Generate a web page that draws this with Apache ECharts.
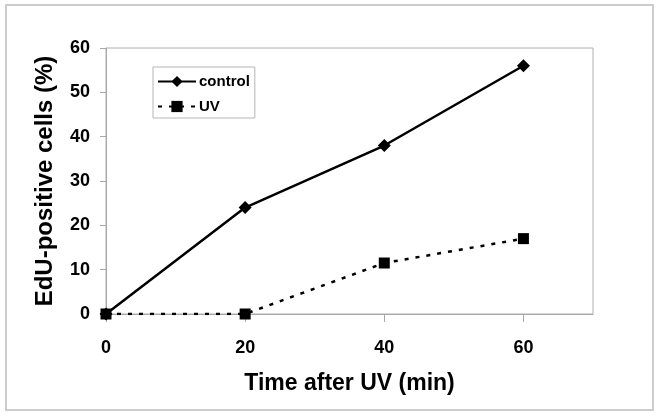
<!DOCTYPE html>
<html><head><meta charset="utf-8">
<script src="https://cdn.jsdelivr.net/npm/echarts@6/dist/echarts.min.js"></script>
<style>
html,body{margin:0;padding:0;background:#fff;}
#frame{position:absolute;left:5px;top:4px;width:645px;height:403px;border:2px solid #cccccc;}
#c{position:absolute;left:0;top:0;width:661px;height:417px;}
</style></head>
<body>
<div id="frame"></div>
<div id="c"></div>
<script>
const times = [0, 20, 40, 60];
const control = [0, 24, 38, 56];
const uv = [0, 0, 11.5, 17];
const xTicks = [0, 20, 40, 60];

const chart = echarts.init(document.getElementById('c'), null, {renderer: 'canvas'});
const font = 'Liberation Sans, Arial, sans-serif';
chart.setOption({
  animation: false,
  grid: {left: 106, top: 48, width: 487, height: 266, show: true, borderColor: '#b0b0b0', borderWidth: 1, containLabel: false},
  legend: {
    left: 153, top: 67, orient: 'vertical',
    padding: [7, 5, 4, 4], itemGap: 10, itemWidth: 38, itemHeight: 14,
    borderColor: '#b5b5b5', borderWidth: 1,
    textStyle: {fontFamily: font, fontWeight: 'bold', fontSize: 15, color: '#000', padding: [0, 0, 0, -2]},
    data: ['control', 'UV']
  },
  xAxis: {
    type: 'value', min: 0, max: 70, interval: 20,
    axisLine: {show: true, lineStyle: {color: '#a8a8a8', width: 1}},
    axisTick: {show: true, length: 8, lineStyle: {color: '#a8a8a8'}, customValues: xTicks},
    axisLabel: {color: '#000', fontFamily: font, fontWeight: 'bold', fontSize: 18, margin: 25, customValues: xTicks},
    splitLine: {show: false},
    name: 'Time after UV (min)', nameLocation: 'middle', nameGap: 70,
    nameTextStyle: {color: '#000', fontFamily: font, fontWeight: 'bold', fontSize: 23, verticalAlign: 'middle'}
  },
  yAxis: {
    type: 'value', min: 0, max: 60, interval: 10,
    axisLine: {show: true, lineStyle: {color: '#a8a8a8', width: 1}},
    axisTick: {show: true, length: 6, lineStyle: {color: '#a8a8a8'}},
    axisLabel: {color: '#000', fontFamily: font, fontWeight: 'bold', fontSize: 18, margin: 16},
    splitLine: {show: false},
    name: 'EdU-positive cells (%)', nameLocation: 'middle', nameGap: 61,
    nameTextStyle: {color: '#000', fontFamily: font, fontWeight: 'bold', fontSize: 24, verticalAlign: 'middle'}
  },
  series: [
    {name: 'control', type: 'line', data: times.map((t, i) => [t, control[i]]),
     symbol: 'diamond', symbolSize: 13, lineStyle: {color: '#000', width: 2.5},
     itemStyle: {color: '#000'}},
    {name: 'UV', type: 'line', data: times.map((t, i) => [t, uv[i]]),
     symbol: 'rect', symbolSize: 11, lineStyle: {color: '#000', width: 2.5, type: [4, 7]},
     itemStyle: {color: '#000'}}
  ]
});
</script>
</body></html>
